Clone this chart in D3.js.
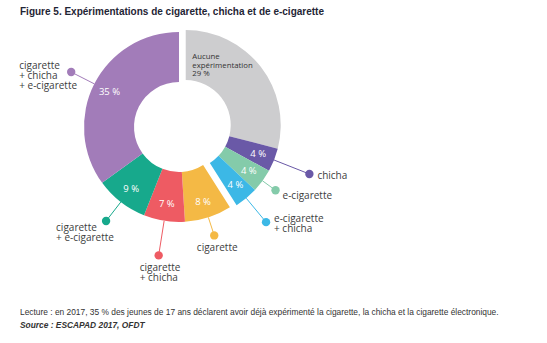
<!DOCTYPE html>
<html>
<head>
<meta charset="utf-8">
<script src="https://cdn.jsdelivr.net/npm/d3@7"></script>
<style>
  html, body { margin: 0; padding: 0; background: #ffffff; }
  svg { display: block; }
</style>
</head>
<body>
<svg id="chart" width="547" height="343"></svg>
<script>
// Expérimentations de cigarette, chicha et e-cigarette (ESCAPAD 2017)
const categories = [
  "Aucune expérimentation",
  "chicha",
  "e-cigarette",
  "e-cigarette + chicha",
  "cigarette",
  "cigarette + chicha",
  "cigarette + e-cigarette",
  "cigarette + chicha + e-cigarette"
];
const values = [29, 4, 4, 4, 8, 7, 9, 35];
// products that do not include cigarette form the detached group
const withoutCigarette = ["Aucune expérimentation", "chicha", "e-cigarette", "e-cigarette + chicha"];

const colors = {
  "Aucune expérimentation": "#cdcdcf",
  "chicha": "#6a59a7",
  "e-cigarette": "#84cbaa",
  "e-cigarette + chicha": "#3cb8e6",
  "cigarette": "#f4b945",
  "cigarette + chicha": "#ee5b63",
  "cigarette + e-cigarette": "#17a98c",
  "cigarette + chicha + e-cigarette": "#a27cb9"
};

// callout layout: distance of the dot from the centre, text offset and anchor
const callouts = {
  "chicha":                           { r: 133, dx: 8,   dy: 4.5, anchor: "start" },
  "e-cigarette":                      { r: 111, dx: 7,   dy: 9,   anchor: "start" },
  "e-cigarette + chicha":             { r: 126, dx: 8,   dy: 0,   anchor: "start" },
  "cigarette":                        { r: 114, dx: 3,   dy: 16,  anchor: "middle" },
  "cigarette + chicha":               { r: 130, dx: -19, dy: 16,  anchor: "start" },
  "cigarette + e-cigarette":          { r: 119, dx: -50, dy: 9.5, anchor: "start" },
  "cigarette + chicha + e-cigarette": { r: 121, dx: -52, dy: -3,  anchor: "start" }
};

const svg = d3.select("#chart");
const cx = 179, cy = 127;
const outerR = 95, innerR = 45, explode = 7;
const textColor = "#3d3d3d";
const font = "'Open Sans', 'Noto Sans', sans-serif";

const data = categories.map((c, i) => ({ category: c, value: values[i] }));
const pie = d3.pie().sort(null).value(d => d.value);
const arcs = pie(data);
const arcGen = d3.arc().innerRadius(innerR).outerRadius(outerR);

// offset of the detached group along its bisector
const grp = arcs.filter(a => withoutCigarette.includes(a.data.category));
const gMid = (d3.min(grp, a => a.startAngle) + d3.max(grp, a => a.endAngle)) / 2;
const gOff = [explode * Math.sin(gMid), -explode * Math.cos(gMid)];
const offsetOf = a => withoutCigarette.includes(a.data.category) ? gOff : [0, 0];
const polar = (angle, r) => [r * Math.sin(angle), -r * Math.cos(angle)];

// title
svg.append("text")
  .attr("x", 20).attr("y", 14.5)
  .attr("font-family", "'Liberation Sans', Arial, sans-serif")
  .attr("font-weight", "bold")
  .attr("font-size", 10)
  .attr("fill", "#1f2535")
  .text("Figure 5. Expérimentations de cigarette, chicha et de e-cigarette");

const chart = svg.append("g").attr("transform", `translate(${cx},${cy})`);

// leader lines and dots
arcs.forEach(a => {
  const c = callouts[a.data.category];
  if (!c) return;
  const mid = (a.startAngle + a.endAngle) / 2;
  const o = offsetOf(a);
  const p0 = polar(mid, outerR);
  const p1 = polar(mid, c.r);
  const col = colors[a.data.category];
  chart.append("line")
    .attr("x1", p0[0] + o[0]).attr("y1", p0[1] + o[1])
    .attr("x2", p1[0] + o[0]).attr("y2", p1[1] + o[1])
    .attr("stroke", col).attr("stroke-width", 1);
  chart.append("circle")
    .attr("cx", p1[0] + o[0]).attr("cy", p1[1] + o[1])
    .attr("r", 4.2).attr("fill", col);
  const lines = a.data.category.split(" + ").map((s, i) => i === 0 ? s : "+ " + s);
  const t = chart.append("text")
    .attr("font-family", font).attr("font-size", 10)
    .attr("fill", textColor).attr("text-anchor", c.anchor);
  lines.forEach((ln, i) => {
    t.append("tspan")
      .attr("x", p1[0] + o[0] + c.dx)
      .attr("y", p1[1] + o[1] + c.dy + i * 10)
      .text(ln);
  });
});

// slices
chart.selectAll("path.slice")
  .data(arcs)
  .join("path")
  .attr("class", "slice")
  .attr("transform", a => `translate(${offsetOf(a)[0]},${offsetOf(a)[1]})`)
  .attr("d", arcGen)
  .attr("fill", a => colors[a.data.category]);

// value labels inside the slices
const labelR = 78;
arcs.forEach(a => {
  const o = offsetOf(a);
  if (a.data.category === "Aucune expérimentation") {
    const p = polar(a.startAngle + 0.1, 66);
    const t = chart.append("text")
      .attr("font-family", font).attr("font-size", 7.8)
      .attr("fill", "#333333");
    ["Aucune", "expérimentation", a.data.value + "\u00a0%"].forEach((ln, i) => {
      t.append("tspan").attr("x", p[0] + o[0]).attr("y", p[1] + o[1] + i * 8.5).text(ln);
    });
    return;
  }
  const mid = (a.startAngle + a.endAngle) / 2;
  const p = polar(mid, labelR);
  chart.append("text")
    .attr("x", p[0] + o[0]).attr("y", p[1] + o[1])
    .attr("dy", "0.35em")
    .attr("text-anchor", "middle")
    .attr("font-family", font).attr("font-size", 9.5)
    .attr("fill", "#ffffff")
    .text(a.data.value + "\u00a0%");
});

// reading note and source
svg.append("text")
  .attr("x", 20).attr("y", 314.5)
  .attr("font-family", "'Liberation Sans', Arial, sans-serif")
  .attr("font-size", 8.4)
  .attr("fill", "#333333")
  .text("Lecture : en 2017, 35 % des jeunes de 17 ans déclarent avoir déjà expérimenté la cigarette, la chicha et la cigarette électronique.");
svg.append("text")
  .attr("x", 20).attr("y", 327.5)
  .attr("font-family", "'Liberation Sans', Arial, sans-serif")
  .attr("font-size", 8.4)
  .attr("font-weight", "bold")
  .attr("font-style", "italic")
  .attr("fill", "#333333")
  .text("Source : ESCAPAD 2017, OFDT");
</script>
</body>
</html>
